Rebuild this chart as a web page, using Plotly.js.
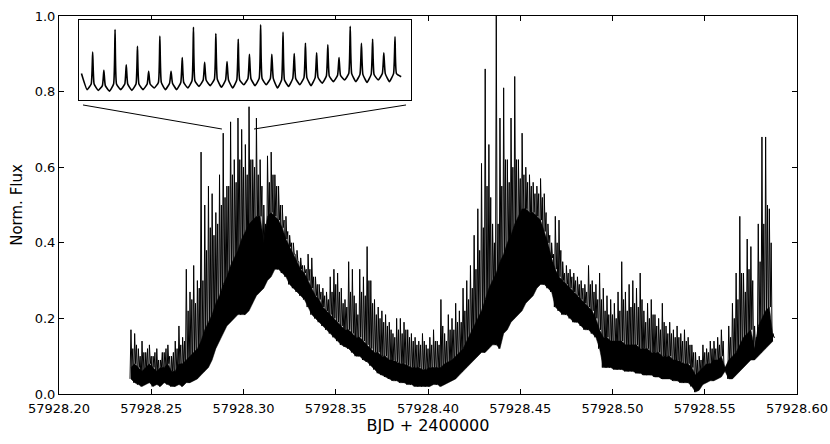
<!DOCTYPE html>
<html>
<head>
<meta charset="utf-8">
<script src="https://cdn.plot.ly/plotly-3.0.1.min.js"></script>
<style>html,body{margin:0;padding:0;background:#fff;}#chart{width:830px;height:444px;}</style>
</head>
<body>
<div id="chart"></div>
<script>
// Main light curve: one cycle per step, each cycle = trough (lo), main spike (pk), band top (md), secondary spike (pk2)
const cycleStart = 57928.2385;
const cycleStep = 0.002;
const lo = [
0.04,0.03,0.025,0.02,0.025,0.03,0.02,0.025,0.02,0.03,0.025,0.02,
0.02,0.025,0.02,
0.03,0.03,0.035,0.04,0.05,
0.06,0.07,0.09,0.12,0.14,0.16,0.18,0.19,0.20,0.21,
0.21,0.21,0.22,0.24,0.26,0.27,0.28,0.30,0.31,0.33,
0.33,0.32,0.31,0.29,0.28,0.27,0.26,0.25,0.23,0.21,
0.20,0.19,0.18,0.17,0.16,0.15,0.14,0.13,0.125,0.12,
0.11,0.10,0.10,0.09,0.085,0.075,0.065,0.055,0.05,0.045,
0.04,0.035,0.035,0.03,0.03,0.025,0.025,0.02,0.02,0.02,
0.02,0.02,0.025,0.025,0.02,0.025,0.03,0.035,0.04,0.05,
0.06,0.07,0.08,0.09,0.10,0.11,0.11,0.12,0.13,0.13,
0.12,0.16,0.17,0.19,0.20,0.21,0.22,0.24,0.25,0.26,
0.28,0.29,0.29,0.28,0.27,0.23,0.22,0.21,0.21,0.20,
0.19,0.19,0.18,0.17,0.17,0.16,0.15,0.12,0.07,0.07,
0.07,0.065,0.065,0.065,0.06,0.06,0.06,0.055,0.055,0.05,
0.05,0.05,0.045,0.045,0.04,0.04,0.04,0.035,0.035,0.03,
0.03,0.03,0.02,0.005,0.01,0.025,0.03,0.035,0.035,0.04,
0.045,0.06,0.04,0.04,0.05,0.06,0.07,0.08,0.09,0.09,
0.10,0.11,0.12,0.13,0.14];
const pk = [
0.17,0.16,0.12,0.14,0.11,0.13,0.10,0.12,0.09,0.11,0.13,0.10,
0.14,0.18,0.15,
0.33,0.27,0.34,0.30,0.64,
0.50,0.55,0.53,0.48,0.58,0.69,0.55,0.72,0.62,0.73,
0.70,0.66,0.76,0.62,0.73,0.62,0.50,0.63,0.64,0.58,
0.55,0.50,0.47,0.42,0.40,0.38,0.36,0.34,0.37,0.36,
0.31,0.29,0.28,0.27,0.31,0.33,0.32,0.28,0.25,0.35,
0.33,0.24,0.33,0.31,0.39,0.30,0.25,0.23,0.22,0.21,
0.19,0.16,0.20,0.20,0.19,0.17,0.16,0.15,0.14,0.16,
0.13,0.15,0.17,0.14,0.25,0.16,0.21,0.20,0.24,0.22,
0.28,0.30,0.34,0.42,0.49,0.61,0.86,0.66,0.45,1.0,
0.73,0.81,0.62,0.73,0.84,0.62,0.69,0.60,0.58,0.56,
0.55,0.57,0.53,0.45,0.40,0.47,0.46,0.35,0.34,0.33,
0.32,0.31,0.30,0.29,0.34,0.30,0.29,0.32,0.28,0.26,
0.25,0.24,0.27,0.35,0.27,0.29,0.30,0.28,0.32,0.22,
0.24,0.25,0.21,0.20,0.24,0.18,0.19,0.17,0.18,0.16,
0.17,0.15,0.13,0.11,0.10,0.13,0.12,0.14,0.14,0.15,
0.17,0.07,0.18,0.24,0.32,0.47,0.32,0.41,0.39,0.18,
0.45,0.68,0.68,0.49,0.16];
const md = [
0.07,0.08,0.07,0.06,0.07,0.08,0.07,0.06,0.07,0.07,0.08,0.06,
0.06,0.08,0.08,
0.09,0.10,0.11,0.12,0.14,
0.17,0.19,0.21,0.24,0.26,0.29,0.31,0.34,0.36,0.38,
0.41,0.43,0.45,0.46,0.47,0.47,0.40,0.47,0.48,0.47,
0.46,0.44,0.41,0.39,0.37,0.35,0.33,0.32,0.30,0.28,
0.26,0.25,0.23,0.22,0.21,0.20,0.19,0.18,0.17,0.17,
0.16,0.15,0.15,0.14,0.13,0.12,0.11,0.11,0.10,0.10,
0.09,0.09,0.085,0.08,0.08,0.075,0.07,0.07,0.07,0.065,
0.065,0.07,0.07,0.07,0.07,0.08,0.085,0.09,0.10,0.11,
0.12,0.14,0.16,0.18,0.20,0.22,0.25,0.28,0.30,0.32,
0.35,0.37,0.40,0.42,0.45,0.47,0.49,0.49,0.48,0.48,
0.47,0.46,0.43,0.40,0.36,0.33,0.31,0.30,0.29,0.28,
0.27,0.26,0.25,0.24,0.23,0.22,0.20,0.17,0.15,0.15,
0.14,0.14,0.14,0.14,0.13,0.13,0.13,0.13,0.12,0.12,
0.12,0.11,0.11,0.11,0.10,0.10,0.10,0.09,0.09,0.085,
0.08,0.08,0.07,0.05,0.06,0.07,0.08,0.08,0.09,0.09,
0.10,0.07,0.09,0.10,0.11,0.13,0.15,0.16,0.17,0.12,
0.18,0.20,0.22,0.23,0.15];
const pk2 = [
0.12,0.13,0.10,0.11,0.12,0.10,0.11,0.09,0.11,0.12,0.10,0.11,
0.12,0.13,0.14,
0.22,0.25,0.24,0.28,0.30,
0.38,0.44,0.42,0.45,0.50,0.52,0.55,0.58,0.56,0.62,
0.60,0.58,0.62,0.60,0.58,0.55,0.45,0.56,0.58,0.55,
0.50,0.46,0.43,0.40,0.37,0.35,0.34,0.33,0.33,0.31,
0.29,0.27,0.26,0.25,0.27,0.29,0.27,0.24,0.23,0.27,
0.26,0.21,0.27,0.26,0.30,0.24,0.21,0.20,0.19,0.18,
0.17,0.15,0.17,0.16,0.17,0.15,0.14,0.13,0.13,0.14,
0.12,0.13,0.14,0.13,0.18,0.14,0.17,0.17,0.19,0.19,
0.22,0.25,0.28,0.33,0.38,0.44,0.55,0.52,0.40,0.45,
0.55,0.62,0.56,0.60,0.62,0.57,0.58,0.56,0.55,0.53,
0.53,0.52,0.48,0.42,0.37,0.40,0.38,0.32,0.32,0.31,
0.30,0.29,0.28,0.27,0.29,0.27,0.25,0.25,0.22,0.21,
0.21,0.20,0.22,0.25,0.22,0.23,0.24,0.23,0.25,0.19,
0.20,0.21,0.18,0.17,0.19,0.16,0.16,0.15,0.15,0.14,
0.14,0.13,0.11,0.09,0.09,0.11,0.11,0.12,0.12,0.13,
0.14,0.07,0.15,0.20,0.25,0.32,0.27,0.33,0.30,0.15,
0.35,0.45,0.50,0.40,0.15];

// Inset (zoom on the peak region)
const insetFirstPeak = 57928.2885;
const insetStep = 0.0006;
const insetStartFlux = 0.33;
const insetEndFlux = 0.29;
const insetPeaks = [0.60,0.37,0.88,0.44,0.67,0.36,0.80,0.36,0.53,0.91,0.47,0.83,0.48,0.76,
  0.57,0.94,0.57,0.85,0.58,0.71,0.59,0.69,0.53,0.92,0.71,0.76,0.59,0.79];
const insetTroughs = [0.13,0.12,0.11,0.13,0.12,0.13,0.15,0.13,0.13,0.15,0.17,0.18,0.16,0.15,
  0.19,0.18,0.19,0.15,0.17,0.19,0.18,0.21,0.23,0.25,0.23,0.22,0.25,0.23];
const insetKnees = [0.20,0.18,0.20,0.20,0.20,0.20,0.22,0.21,0.22,0.24,0.25,0.26,0.25,0.25,
  0.27,0.27,0.27,0.25,0.27,0.28,0.28,0.30,0.31,0.33,0.32,0.32,0.33,0.33];

// build main traces
const mx = [], my = [], bx = [];
for (let i = 0; i < lo.length; i++) {
  const t = cycleStart + i * cycleStep;
  bx.push(t + cycleStep / 4);
  mx.push(t); my.push(lo[i]);
  mx.push(t + cycleStep / 4); my.push(pk[i]);
  mx.push(t + cycleStep / 2); my.push(md[i]);
  mx.push(t + 3 * cycleStep / 4); my.push(pk2[i]);
}
// build inset trace
const ix = [insetFirstPeak - insetStep], iy = [insetStartFlux];
for (let k = 0; k < insetPeaks.length; k++) {
  const tp = insetFirstPeak + k * insetStep;
  ix.push(tp - 0.5 * insetStep); iy.push(insetTroughs[k]);
  ix.push(tp - 0.13 * insetStep); iy.push(insetKnees[k]);
  ix.push(tp); iy.push(insetPeaks[k]);
  ix.push(tp + 0.13 * insetStep); iy.push(insetKnees[k]);
}
ix.push(insetFirstPeak + (insetPeaks.length - 1 + 0.55) * insetStep); iy.push(insetEndFlux);

const font = {family: 'DejaVu Sans, sans-serif', size: 13, color: '#000'};
const data = [
  {x: bx, y: lo, type: 'scatter', mode: 'lines', line: {color: '#000', width: 0.5}, xaxis: 'x', yaxis: 'y', hoverinfo: 'skip'},
  {x: bx, y: md, type: 'scatter', mode: 'lines', fill: 'tonexty', fillcolor: '#000', line: {color: '#000', width: 0.5}, xaxis: 'x', yaxis: 'y', hoverinfo: 'skip'},
  {x: mx, y: my, type: 'scatter', mode: 'lines', line: {color: '#000', width: 1, simplify: false}, xaxis: 'x', yaxis: 'y', hoverinfo: 'skip'},
  {x: ix, y: iy, type: 'scatter', mode: 'lines', line: {color: '#000', width: 1.6, shape: 'spline', smoothing: 0.4}, xaxis: 'x2', yaxis: 'y2', hoverinfo: 'skip'}
];
const axCommon = {showline: true, linecolor: '#000', linewidth: 1, mirror: 'allticks', ticks: 'inside',
  ticklen: 5, tickcolor: '#000', showgrid: false, zeroline: false, tickfont: font};
const layout = {
  width: 830, height: 444,
  margin: {l: 59, r: 33, t: 16, b: 50},
  paper_bgcolor: '#fff', plot_bgcolor: '#fff',
  showlegend: false,
  font: font,
  xaxis: Object.assign({}, axCommon, {range: [57928.2, 57928.6], dtick: 0.05, tick0: 57928.2, tickformat: '.2f',
    ticklabelstandoff: 2,
    title: {text: 'BJD + 2400000', font: {family: 'DejaVu Sans, sans-serif', size: 16, color: '#000'}, standoff: 4}}),
  yaxis: Object.assign({}, axCommon, {range: [0, 1], dtick: 0.2, tick0: 0, tickformat: '.1f',
    title: {text: 'Norm. Flux', font: {family: 'DejaVu Sans, sans-serif', size: 15, color: '#000'}, standoff: 8}}),
  xaxis2: {domain: [0.0271, 0.4770], anchor: 'y2', range: [insetFirstPeak - 1.22 * insetStep, insetFirstPeak + 28.43 * insetStep],
    showline: true, mirror: true, linecolor: '#000', linewidth: 1.2, showticklabels: false, ticks: '', showgrid: false, zeroline: false},
  yaxis2: {domain: [0.7778, 0.9894], anchor: 'x2', range: [0, 1],
    showline: true, mirror: true, linecolor: '#000', linewidth: 1.2, showticklabels: false, ticks: '', showgrid: false, zeroline: false},
  shapes: [
    {type: 'line', xref: 'x', yref: 'y', x0: 57928.2130, y0: 0.7646, x1: 57928.2883, y1: 0.701, line: {color: '#000', width: 1}},
    {type: 'line', xref: 'x', yref: 'y', x0: 57928.3881, y0: 0.7646, x1: 57928.3057, y1: 0.701, line: {color: '#000', width: 1}}
  ]
};
Plotly.newPlot('chart', data, layout, {staticPlot: true, displayModeBar: false});
</script>
</body>
</html>
